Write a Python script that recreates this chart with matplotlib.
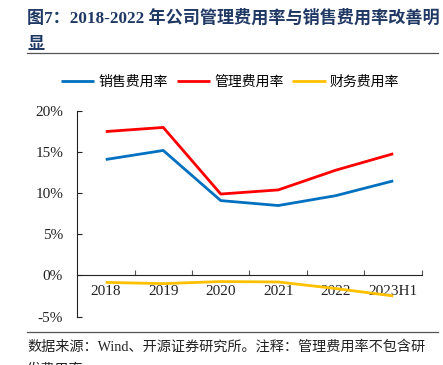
import matplotlib.pyplot as plt
from matplotlib.lines import Line2D
from matplotlib.ticker import FuncFormatter

plt.rcParams["font.family"] = ["Liberation Serif", "Noto Sans CJK SC"]

# ------------------------------------------------------------------ #
#  Data (%)                                                           #
# ------------------------------------------------------------------ #
periods = ["2018", "2019", "2020", "2021", "2022", "2023H1"]
sales_rate = [14.1, 15.2, 9.1, 8.5, 9.7, 11.5]
admin_rate = [17.5, 18.0, 9.9, 10.4, 12.8, 14.8]
finance_rate = [-0.85, -1.0, -0.75, -0.8, -1.6, -2.5]
series_names = ["销售费用率", "管理费用率", "财务费用率"]
colors = ["#0070C0", "#FF0000", "#FFC000"]

W, H = 443, 365
fig = plt.figure(figsize=(W / 100, H / 100), dpi=100)

# title + rules
fig.text(27 / W, 1 - 31 / H,
         "图7：2018-2022 年公司管理费用率与销售费用率改善明\n显",
         fontsize=12.3, fontweight="bold", color="#1F3864",
         ha="left", va="center", linespacing=1.75)
fig.add_artist(Line2D([27 / W, 438 / W], [1 - 52.5 / H] * 2,
                      color="#555555", lw=0.9))
fig.add_artist(Line2D([27 / W, 438 / W], [1 - 332 / H] * 2,
                      color="#555555", lw=0.9))
fig.text(27 / W, 1 - 358 / H,
         "数据来源：Wind、开源证券研究所。注释：管理费用率不包含研\n发费用率。",
         fontsize=10.2, color="#222222", ha="left", va="center",
         linespacing=1.9)

# axes: x from 77 to 422 px, y from 111 (20%) to 316 (-5%)
ax = fig.add_axes([77 / W, 1 - 316.5 / H, 345 / W, 205.5 / H])
x = list(range(len(periods)))
for vals, name, c in zip([sales_rate, admin_rate, finance_rate], series_names, colors):
    ax.plot(x, vals, color=c, lw=2, label=name, solid_capstyle="butt")

ax.set_xlim(-0.5, len(periods) - 0.5)
ax.set_ylim(-5, 20)
ax.set_yticks([-5, 0, 5, 10, 15, 20])
ax.yaxis.set_major_formatter(FuncFormatter(lambda v, p: f"{v:.0f}%"))
ax.tick_params(axis="y", direction="in", length=3.5, width=0.8,
               labelsize=11, pad=10, colors="#222222")

ax.spines["top"].set_visible(False)
ax.spines["right"].set_visible(False)
ax.spines["bottom"].set_position(("data", 0))
ax.spines["left"].set_color("#222222")
ax.spines["bottom"].set_color("#222222")
ax.spines["left"].set_linewidth(0.8)
ax.spines["bottom"].set_linewidth(0.8)

ax.set_xticks(x)
ax.set_xticklabels(periods)
ax.set_xticks([i + 0.5 for i in x], minor=True)
ax.tick_params(axis="x", which="major", length=0, labelsize=11, pad=7,
               colors="#222222")
ax.tick_params(axis="x", which="minor", direction="in", length=3.5, width=0.8,
               color="#555555")

fig.legend(loc="center", bbox_to_anchor=(230 / W, 1 - 82 / H), ncol=3,
           frameon=False, fontsize=10, handlelength=2.4, handletextpad=0.3,
           columnspacing=0.65, borderaxespad=0)

plt.savefig("out.png", dpi=100)
plt.close()
